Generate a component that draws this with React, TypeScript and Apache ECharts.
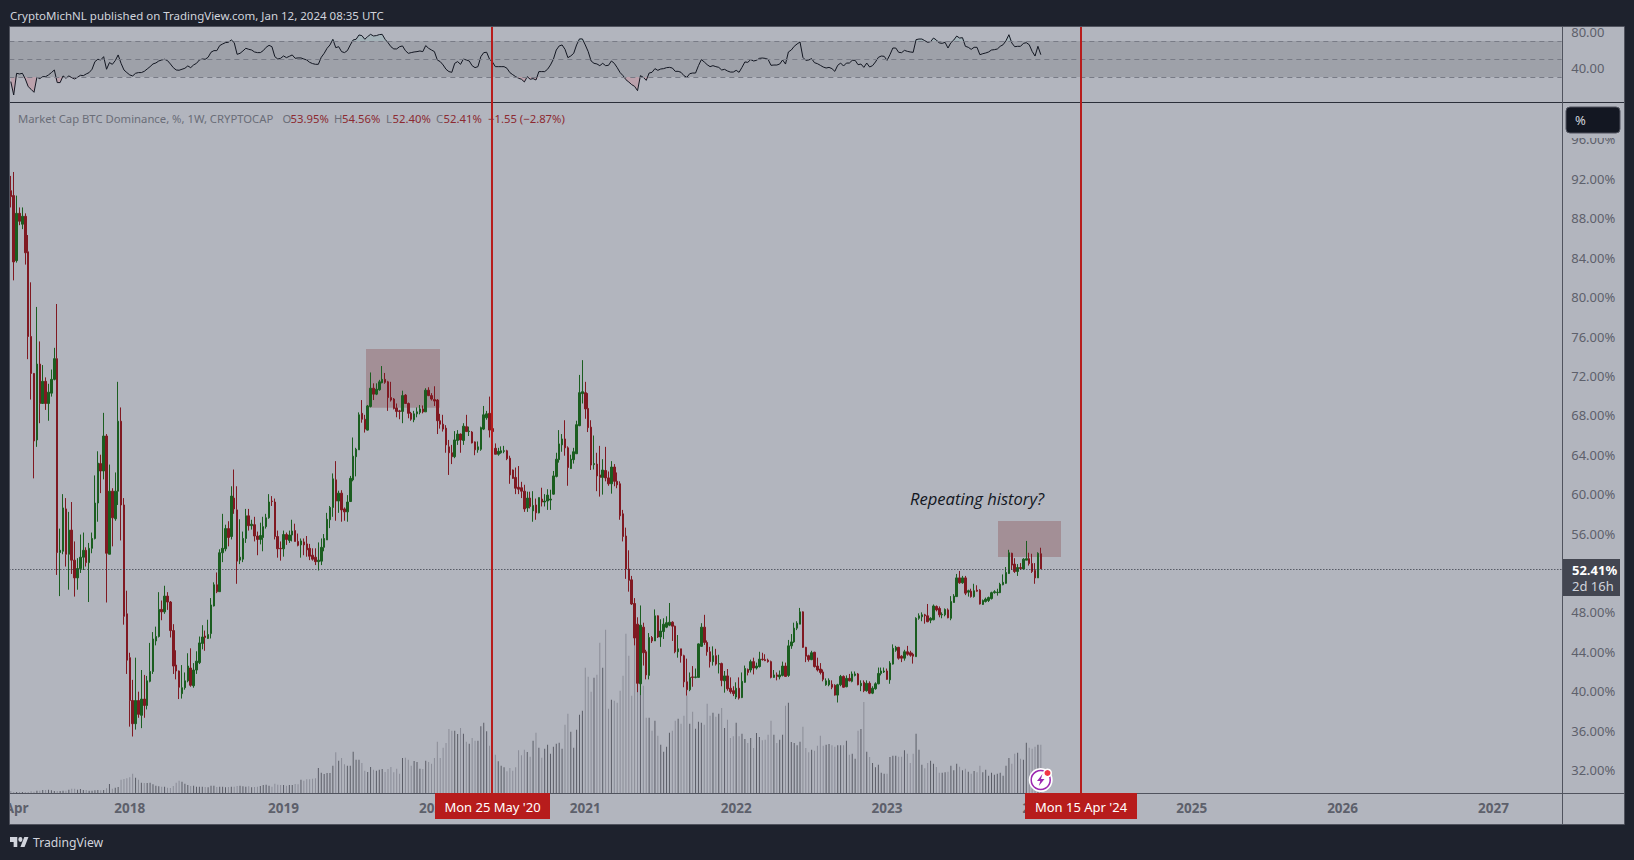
import React, { useEffect, useRef } from "react";
import * as echarts from "echarts";

// [open, close, high, low] per week
const candles2017 = [
[90.8,90.2,92.3,89.1],[90.3,83.57,92.7,81.7],[83.7,88.5,90.3,83.5],[88.5,87.7,89.1,87.3],[87.4,88.2,89.1,86.9],[88.2,84.5,88.5,83.3],[84.6,76,86.3,73.7],[76,72.25,81.5,69.6],[72.25,65.4,72.3,61.6],[65.5,73.2,79,64.8],
[73.2,69.2,75.5,67.2],[69.2,71.45,73.1,69.2],[71.45,69.2,71.85,68.55],[69.2,70.35,71.2,67.45],[70.25,71.65,72.65,69.9],[71.65,73.75,74.85,71.55],[73.75,54.07,79.3,51.8],[54.07,54.3,56.5,49.65],[54.2,58.6,60,53.9],[58.5,53.9,59.6,52.65],
[53.9,56.35,58.2,50.3],[56.35,53.3,59.2,51.9],[53.3,51.5,55.2,49.6],[51.5,52.45,53.5,50.3],[52.45,53.6,55.9,52],[53.6,54.3,56.1,52.3],[54.3,53.05,54.6,52.65],[53.05,54.5,55.05,49.05],[54.5,55.5,56.1,54],[55.5,59.1,61.9,55.4],
[59.1,63.15,64.35,57.2],[63.1,62.35,64,60.1],[62.35,65.9,68.25,61.5],[65.9,54,66.1,49],[53.9,60.3,63,53.9],[60.3,57.6,60.6,54.7],[57.5,60.3,62.2,57.3],[60.3,67.4,71.4,58.9],[67.4,58.9,68.8,55.3],[58.9,47.6,59.6,46.75],
[47.85,43.15,50.2,41.75],
];
const candles2018 = [
[43.4,39.05,43.9,36.4],[39.05,36.7,41.15,35.4],[36.7,39.05,43.4,36.1],[39.05,37.65,39.95,37.3],[37.55,39.2,42.15,36.25],[39.2,38.55,41.65,37.3],[38.55,41.05,41.55,38.15],[41,42,44.9,40.9],[42,45.3,46,41.75],
[45.1,45.55,46.55,44.65],[45.55,48.3,50.05,45.45],[48.3,48.05,49.2,47.2],[48.05,49.65,50.7,47.85],[49.65,49.05,50.05,48.25],[49.05,46.15,49.15,45.45],[46.15,42.55,46.8,41.75],[42.65,42.05,44.15,41.2],[42.05,40.4,42.1,39.2],[39.75,40.35,42.65,39.25],
[40.35,41.05,41.9,40.15],[41.05,42.55,43.85,40.9],[42.35,40.6,44.35,40.45],[40.55,42.15,42.85,40.35],[42.15,43.05,44.05,41.75],[42.9,44.9,45.55,42.75],[44.85,45.5,46.7,44.25],[45.6,45.45,46.15,44.1],[45.35,45.75,47.25,45.3],[45.85,48.75,49.45,45.35],
[48.65,50.8,51.05,48.6],[50.8,50.1,52.05,49.95],[50.1,54.05,54.4,50.1],[54.05,54.5,58,53.1],[54.45,56.5,56.9,54.2],[56.5,55.6,57.25,54.7],[55.7,59.8,60.8,55.4],[59.6,58.5,62.5,58],[58.4,53.2,60.8,50.9],[53.3,53.6,57.45,52.9],
[53.4,55.5,56.2,53.1],[55.5,57.8,58.5,55.05],[57.8,56.8,58.5,56.3],[56.8,56.95,57.4,56.4],[56.9,55.75,57.7,55.2],[55.75,55.4,56.2,53.8],[55.4,55.8,57.1,54.9],[55.6,56.7,57.7,54.2],[56.7,57.6,58,56.5],[57.6,59.2,60,57.5],
[59.3,59.25,59.8,58.8],[59.2,55.7,59.55,55.4],[55.7,54.45,56.3,53.55],[54.5,54.45,55.2,53.25],
];
const candles2019 = [
[54.45,55.9,56.3,53.65],[55.9,55.4,56.1,54.85],[55.3,55.85,56.3,55.05],[55.85,56.25,57.4,55.2],[56.3,55.2,57,55.2],[55.2,54.8,56,54.7],
[54.85,55.25,55.5,53.55],[55.15,54.85,55.5,53.8],[54.95,54.35,55.75,53.65],[54.5,53.7,54.95,53.3],[53.8,53.4,54.5,53.25],[53.6,53.15,54.5,52.8],[53.15,53.3,55.1,52.25],[53.2,54.6,55.5,52.8],[54.6,55.5,55.95,54.2],[55.35,57.45,58.1,55.35],
[57.4,58.65,58.8,56.55],[58.65,61.55,62.1,57.7],[61.45,59.3,63.35,57.3],[59.3,60.1,60.35,58.1],[60.1,58.4,60.4,57.2],[58.5,58.2,58.65,57.3],[58.2,59.2,59.9,57.2],[59.25,61.6,61.85,59.2],[61.45,63.85,65.75,61.3],[63.8,64.55,64.7,61.8],
[64.5,68.05,68.3,64.5],[68.2,67.6,69.55,67.25],[67.6,66.6,68.05,66.25],[66.5,68.95,69.05,66.45],[68.9,70.75,72.35,68.8],[70.75,70.15,71.25,69.55],[70.15,70.65,71.25,70.05],[70.6,71.4,71.6,70.5],[71.3,71.65,73,71.25],[71.65,71.35,72.3,71.2],
[71.4,69.8,71.5,68.45],[69.8,69.55,71.4,69.4],[69.65,68.7,69.75,68.6],[68.75,68.4,69.2,67.8],[68.45,68.4,68.55,67.6],[68.4,70,70.5,67.2],[70.05,69.2,70.15,69.15],[69.2,68.2,69.3,67.7],[68.2,67.6,68.35,67.45],[67.55,68.15,68.45,67.3],
[68.15,68.35,68.8,67.8],[68.3,68.65,69.05,68.1],[68.65,68.35,69,68.2],[68.35,70.55,70.75,68.35],[70.55,70,70.85,69.95],[70,69.65,70.25,69.5],
];
const candles2020 = [
[69.6,69.45,70.95,68.95],[69.55,67.45,69.65,66.1],[67.45,67.1,68.15,66.65],[67.1,66.6,68.05,66.35],
[66.7,65,67,64.2],[64.8,64.2,65.5,61.95],[64.2,63.8,65,63.05],[63.8,65.5,66.4,63.65],[65.45,66.1,66.5,65],[66.1,65.5,66.15,64.2],[65.45,66.9,67.2,65],[66.85,66.35,68.05,66.35],[66.35,66.4,66.85,65.9],[66.3,65.2,66.4,65.15],
[65.3,64.5,65.35,63.95],[64.5,64.8,65.35,64.2],[64.55,66.75,66.85,64.4],[66.6,68.05,68.95,66.5],[67.75,68.15,68.45,67.55],[68.2,66.5,69.9,65.75],[66.65,66.35,66.7,65.75],[64.65,64.05,65.15,64.05],[64.05,64.35,64.7,63.9],[64.2,64.4,64.85,64.1],
[64.35,64.4,64.9,64.15],[64.4,63.6,64.5,63.45],[63.65,61.95,63.9,61.05],[62.45,61.6,62.5,61.55],[61.7,60.6,62.7,60],[60.7,60.5,62.85,60],[60.65,60.3,61.25,59.6],[60.3,58.5,60.95,58.2],[58.6,59.6,60.25,58.2],[59.6,58.75,60.25,58.55],
[58.3,58.85,60.3,57.2],[58.9,58.1,59.55,57.4],[58.1,59.65,59.65,58.05],[59.5,59.2,60.65,58.75],[59.2,59.3,60,58.75],[59.3,59.9,60.5,58.4],[59.4,59.5,60.45,58.4],[60,61.85,62.35,59.95],[61.8,63.55,64.2,61.7],[63.5,65.1,66.5,63.2],
[65,65.6,66.1,64.3],[65.6,64.7,67.5,63.9],[64.7,62.7,64.85,60.85],[62.6,63.55,64,62.55],[63.5,64.3,64.7,63.1],[64.1,67.05,67.45,64.1],[66.95,70.3,72.1,66.9],[70.2,70.4,73.6,69.2],
];
const candles2021 = [
[70.3,68.65,71.4,67.65],[68.7,66.75,70.25,66.3],[66.8,62.95,67.5,62.45],[63,63.1,65.95,62.5],[63.05,61.85,64.2,60.3],[61.95,61.7,64.9,59.75],[61.7,62.45,63.55,59.95],[62.4,61.65,64.8,61.3],[61.65,61.05,62.3,60.85],[61.05,62.75,63.35,60.05],
[62.75,61.3,63.05,60.8],[61.3,60.95,62.2,60.6],[61.05,57.8,61.3,57.4],[58,55.7,58.4,55.2],[55.75,52.4,56.6,51.4],[52.4,51.25,54.3,50.1],[51.3,48.85,51.7,48.75],[48.9,45.4,49.45,44.65],[46.8,40.8,47.5,39.9],[40.75,46.7,48.7,39.6],
[46.5,43.9,46.95,42.6],[44,41.65,44.2,41.2],[41.6,45.45,45.9,41.2],[45.45,45.1,45.6,44.9],[45.1,47.65,48.3,45.1],[47.65,45.5,47.7,45.4],[45.5,46.1,47.3,44.5],[46.05,46.8,47.4,45.3],[46.5,46.95,47.6,46.4],[46.7,47,48.95,46.6],
[47,46.6,47.1,45.1],[46.6,44,46.65,43.85],[44,44.3,45.7,43.4],[44.3,43.6,44.3,42.9],[43.6,40.95,43.7,40.4],[40.95,40.15,43.3,39.55],[40.15,41.4,41.9,40],[41.45,41.4,42.55,40.45],[41.4,41.45,42.3,41.3],[41.4,44.8,44.85,41.4],
[44.55,46.5,46.9,44.5],[46.5,44.95,47.75,44.7],[44.95,44,45.15,43.6],[44,43,44.5,42.4],[43,43.6,44.55,42.6],[43.6,42.75,44.3,42.6],[42.75,42.8,43.7,41.8],[42.8,41.1,42.9,40.5],[41.05,41.55,42.05,39.85],[41.55,40.25,42.25,40.05],
[40.3,39.95,41.4,39.75],[40.05,39.75,40.5,39.5],
];
const candles2022 = [
[39.4,40.3,40.9,39.2],[40.3,39.3,41.4,39.15],[39.35,41,41.9,39.3],[40.9,42.3,42.6,40.85],[42.2,41.9,42.3,41.6],[42.15,43,43.2,41.9],[43,42.35,43.4,41.7],[42.35,42.55,42.9,42.2],[42.5,43.25,44,42.4],[43.25,43.2,43.9,43.1],
[43.2,43.1,43.75,43.05],[43.15,43,43.3,42.9],[43,41.4,43.1,41.3],[41.4,41.65,42.15,41.35],[41.65,41.5,41.9,41.1],[41.45,41.65,42.1,41.2],[41.6,42.55,43,41.5],[42.55,41.5,42.9,41.45],[41.6,44.6,45.2,41.45],[44.6,45,45.8,44.3],
[45,46.4,46.95,44.9],[46.4,46.9,47.1,46.2],[46.8,48.05,48.45,46.8],[48.05,44.45,48.1,44.4],[44.45,43.55,44.5,42.95],[43.6,43.2,43.7,43],[43.2,43.9,44.1,43.15],[43.95,42.5,44,42.4],[42.55,42.15,43.4,42],[42.25,41.9,42.85,41.7],
[41.95,41.2,42.2,41],[40.65,41.05,41.3,40.55],[40.65,41.1,41.3,40.5],[40.7,40.4,41.1,40.2],[40.6,39.6,40.7,39.55],[39.6,40.65,40.75,38.85],[40.65,41.5,41.65,40.5],[41.5,40.4,41.6,40.35],[40.45,41.3,41.6,40.4],[41.3,41.05,41.75,41],
[41,41.75,42,40.9],[41.6,41.75,42,41.5],[41.75,40.65,41.85,40.6],[40.55,40.8,41.1,40],[40.9,40.05,41.1,39.9],[40.05,40.8,41.1,39.95],[40.8,39.8,41,39.7],[39.8,40.3,40.5,39.7],[40.25,40.75,40.9,40.15],[40.75,41.8,42.4,40.7],
[41.8,42.05,42.4,41.6],[41.95,42.05,42.4,41.85],
];
const candles2023 = [
[42.05,41.2,42.3,41.15],[41.15,42.85,43.05,40.75],[42.75,44.35,44.75,42.7],[44.15,44.45,44.6,44],[44.45,43.35,44.5,43.2],[43.55,43.35,43.65,42.95],[43.35,44,44.2,43.1],[44,43.75,44.6,43.6],[43.9,43.65,44.1,43.5],[43.75,43.55,43.9,42.8],
[43.5,47.4,47.5,43.5],[47.4,47.65,47.9,47.25],[47.55,47.75,48,47.1],[47.75,47.65,47.85,46.85],[47.65,47.05,48.85,47],[47.2,47.4,47.5,46.9],[47.25,48.65,48.8,47.2],[48.6,48.25,48.7,48.1],[48.4,47.75,48.6,47.5],[47.75,47.8,48,47.4],
[47.75,48.3,48.4,47.6],[48.25,47.45,48.4,47.4],[47.4,49.1,49.65,47.2],[49,49.65,49.85,49],[49.6,51.5,51.9,49.6],[51.5,51,52.2,50.9],[51,51.5,51.7,50.9],[51.5,49.95,51.7,49.75],[50.05,50.2,50.3,49.6],[50.15,49.6,50.4,49.5],
[49.6,50.2,50.9,49.5],[50.25,50.15,50.75,50.1],[50.25,48.85,50.35,48.8],[48.8,49.2,49.3,48.75],[49.1,49.35,49.5,49],[49.2,49.5,49.6,49.05],[49.4,50,50.1,49.3],[50,50.1,50.25,49.9],[50,50.05,50.4,49.7],[50,50.85,51,49.95],
[50.8,51.05,51.85,50.75],[50.95,52.05,52.6,50.9],[51.95,54.05,54.35,51.9],[54,52.8,54.05,52.3],[52.9,52.15,53.5,52],[52.15,52.55,52.9,51.7],[52.55,52.45,53,52.3],[52.4,53.4,53.5,52.35],[53.3,53.45,55.25,53.3],[53.45,52.95,54.05,52.75],
[52.95,52.15,53.95,52],[52.25,51.5,53,50.9],
];
const candles2024 = [[51.5,54,54.1,51.5],[53.95,52.41,54.56,52.4]];

const volume2017 = [2,1,1,1,1,1,1,1.7,1.3,2.3,2.3,3,3,3.3,2.7,2,2,2,2.3,2.3,3.3,4.3,4.3,3.3,4,3,3,2.3,2.3,2.7,3,2.7,3,4.7,9,4.3,5.3,6,13.3,14,14.7];
const volume2018 = [15.7,19.3,15.3,13.3,10.3,10,10,10.3,8.7,7.3,6.7,6.3,6.3,5.3,5,7,10.3,12.3,11.3,9.3,8,7,7.3,6.3,6.3,6.3,6,5.7,7.3,7.3,6,6.3,6.3,5.7,6,6.3,6.3,7,7.3,6.7,6.3,6.7,5.7,6,6.3,7,8,8.3,7.3,6.3,9.3,8.3,8];
const volume2019 = [8,7.3,8,8,9,8.7,13.3,12.3,13.7,13.7,14.3,14.7,25,20.3,19,20,20,27.3,40.7,32.3,35,28.7,27.3,27.3,41.3,33.3,33.3,30,22.3,21,26,23.3,22.3,23.3,24,21,24,26,20.7,24.3,19.3,35,35.3,33.3,27.3,32,31,24.3,24,32.3,31,29.3];
const volume2020 = [35,51.3,35,45.3,50,64,62.3,62.3,59,65,59.3,51.3,49.3,55,52.3,52.3,66.7,70.3,61.7,47.3,46,38.3,31.7,27.3,25.7,21.7,25,22.3,25.7,42.7,37.7,43.3,41,36.3,52.3,60.3,45.3,35.3,44.3,48.3,39.3,46.3,49.3,50.3,44.3,68.3,79.3,61.3,45.3,63.3,78.3,82.3];
const volume2021 = [125.3,116.3,101.3,115.3,118.3,150.3,125.3,163.3,84.3,93.3,92.3,90.3,102.3,117.3,159.3,137.3,97.3,172.3,156.7,168,107.3,75.3,75.3,62.3,72.3,57.3,48.3,41.3,46.3,60.3,62.3,72.3,74.3,69.3,77.3,97.3,69.3,81.3,64.3,71.3,70.3,68.3,89.3,77.3,80.3,76.3,79.3,85,65,73.3,55,56.7];
const volume2022 = [70.3,56.7,59.3,54,50,55,45,60,56,52.7,53.3,58.3,72.3,58.3,50,53.3,58.3,87.3,90.3,51,50,47.7,51.3,66.3,45,40.7,43.3,42.3,47.3,57.3,47.3,48.3,49,47.7,46.3,47.7,47.7,47.7,52.3,38.3,39.3,34.3,62.3,64,91,41.3,36,30,25.7,28.3,20.3,19.3];
const volume2023 = [19.3,36,37.3,37.3,36.3,36.3,42.7,39.3,30,39.3,59.3,43.3,28.3,24.7,30,32.3,29.3,26,20.3,20.3,20.7,21.3,27.3,22.7,29.3,26.3,22.7,24.3,21.3,19.3,22,20.7,27.3,20.7,23.3,17.3,20.3,18.3,19.3,20.3,17.3,27.3,35,29.3,39.3,40.3,34.3,33.3,50.3,45.3,44.3,46.3];
const volume2024 = [48.3,48.3];

const rsi2017 = [24.9,10,34.1,33.4,34.1,27.8,19.3,16.3,13,29.7,28.2,30.4,30.4,32.3,34.9,37.8,23.8,23.8,31.2,28.6,31.2,29.3,27.8,29.7,31.9,31.5,33.4,34.9,38.6,47.1,49.7,48.9,52.6,38.6,46,44.1,48.2,54.5,45.2,37.8,34.9];
const rsi2018 = [32.3,31.2,34.1,34.9,34.9,36.3,38.9,41.5,44.5,45.6,47.8,48.9,49.7,48.2,44.5,40.4,37.8,37.5,38.6,39.7,42.3,40.4,43.4,45.2,48.9,50,49.7,51.9,57.5,59.3,59.3,64.9,66.7,68.2,68.6,71.2,68.2,55.2,56.3,58.9,61.9,60.8,60,57.8,57.1,57.1,59.3,63,65.2,63.7,52.6,50,50.8];
const rsi2019 = [53.4,51.5,53,54.5,50.8,51.2,51.2,50,48.9,46.3,44.9,44.1,44.1,51.9,56.3,61.9,65.6,71.9,62.6,63.7,58.2,57.1,59.3,65.6,71.2,71.9,76.7,76,71.9,74.9,77.4,75.6,76,77.1,77.4,71.9,68.2,63.7,61.2,61.2,63.7,64.5,59.3,56.3,57.1,57.8,58.2,58.9,58.2,64.9,61.9,60];
const rsi2020 = [58.2,48.9,47.1,43.4,38.6,36,35.2,45.2,47.1,44.1,50,48.9,47.8,42.6,40.4,41.5,52.6,57.1,57.5,49.7,46.7,41.5,41.5,41.5,41.5,39.7,34.9,32.6,30.4,28.6,27.5,24.5,30.4,27.5,28.2,26.7,36,36,36,38.6,43.4,49.7,60,64.5,65.6,60.8,51.5,53.4,56.3,65.6,72.3,72.3];
const rsi2021 = [65.6,58.2,47.8,45.2,44.5,42.6,45.2,42.6,43,47.8,45.2,40.4,34.9,31.5,27,24.4,21.5,19.6,14.8,31.5,29.6,26.3,34.4,35.2,39.3,37.4,38.9,39.3,40.4,40.7,40,36.3,36.3,35.2,31.5,29.6,33.7,34.4,34.4,42.6,49.3,46.7,43.7,41.5,42.6,41.5,40.7,37.8,38.5,36.7,35.5,35.5];
const rsi2022 = [37.4,35.2,40.7,46.7,46.3,49.3,47.8,48.5,50.7,51.1,50.7,49.6,43,43.3,43.3,44.4,48.9,44.4,57.8,60,64.1,66.7,68.9,51.8,48.5,48.9,50.4,45.9,44.8,43,41.1,40,40.7,39.3,36.3,43,45.5,42.2,45.5,45.5,48.5,48.5,43.7,44.4,40.7,45.5,41.1,42.6,46.7,51.8,53.3,53];
const rsi2023 = [48.5,54.8,62.2,62.2,57.4,57,59.6,58.5,57.8,57.4,71.5,72.2,72.2,70.4,68.5,69.3,73.3,71.1,67.8,67.4,68.5,62.2,68.1,71.1,75.5,73.3,73.7,64.1,63,60.7,63,63,54.8,55.9,56.7,57.8,60,60.4,61.1,64.1,65.9,70.4,77,67.8,63.7,64.1,64.1,67.4,68.1,65.9,58.5,53.3];
const rsi2024 = [64.1,54.8];

const tickLabels: Record<number, string> = { 2: "Apr", 41: "2018", 94: "2019", 146: "2020", 198: "2021", 250: "2022", 302: "2023", 354: "2024", 407: "2025", 459: "2026", 511: "2027" };

const WEEKS = 535;
const FONT = '"Noto Sans"';
const BG = "#1e222d";
const PANEL = "#b2b5be";
const LINE = "#50535e";
const RED = "#b71c1c";
const UP = "#1b5e20";
const DOWN = "#801922";

registerLogo();
function registerLogo() {
  echarts.graphic.registerShape(
    "tvlogo",
    echarts.graphic.extendPath("M14 6H0v8h7v8h7V6Zm14 16h-8l7.5-16h8L28 22Zm-8-8a4 4 0 1 0 0-8 4 4 0 0 0 0 8Z", {})
  );
}

const txt = (text: string, x: number, y: number, fill: string, font: string, z = 40, align = "left") => ({
  type: "text", x, y, z, silent: true,
  style: { text, fill, font, textAlign: align, textVerticalAlign: "middle" },
});
const rect = (x: number, y: number, width: number, height: number, fill: string, z: number) => ({
  type: "rect", z, silent: true, shape: { x, y, width, height },
  style: { fill },
});
const ln = (x1: number, y1: number, x2: number, y2: number, stroke: string, lineWidth: number, z: number) => ({
  type: "line", z, silent: true, shape: { x1, y1, x2, y2 }, style: { stroke, lineWidth },
});

export default function App() {
  const ref = useRef<HTMLDivElement>(null);
  useEffect(() => {
    const chart = echarts.init(ref.current!, null, { renderer: "svg" });
    const rows = [...candles2017, ...candles2018, ...candles2019, ...candles2020, ...candles2021, ...candles2022, ...candles2023, ...candles2024];
    const candles = rows.map(([o, c, h, l]) => [o, c, l, h]);
    const volumes = [...volume2017, ...volume2018, ...volume2019, ...volume2020, ...volume2021, ...volume2022, ...volume2023, ...volume2024];
    const rsi = [...rsi2017, ...rsi2018, ...rsi2019, ...rsi2020, ...rsi2021, ...rsi2022, ...rsi2023, ...rsi2024];
    const categories: string[] = [];
    for (let i = 0; i < WEEKS; i++) categories.push(new Date(Date.UTC(2017, 2, 20 + 7 * i)).toISOString().slice(0, 10));

    const gridLeft = 9.35;
    const gridWidth = 1552.3;
    const axisFont = { color: "#5d606b", fontFamily: FONT, fontSize: 13 };
    const hiddenX = (i: number) => ({ type: "category", gridIndex: i, data: categories, show: false });

    const sans = `13px ${FONT}`;
    const legendFont = `11.3px ${FONT}`;
    const redT = "#8c2a31";
    const grayT = "#6a6d78";

    chart.setOption({
      animation: false,
      backgroundColor: BG,
      grid: [
        { left: gridLeft, width: gridWidth, top: 27, height: 77 },
        { left: gridLeft, width: gridWidth, top: 100.05, height: 669.95 },
        { left: gridLeft, width: gridWidth, top: 600, height: 193 },
      ],
      xAxis: [
        hiddenX(0),
        hiddenX(1),
        {
          type: "category", gridIndex: 2, data: categories,
          axisLine: { show: false }, axisTick: { show: false },
          axisLabel: {
            ...axisFont, fontSize: 13.5, fontWeight: "bold", margin: 8,
            interval: (i: number) => tickLabels[i] !== undefined,
            formatter: (_: string, i: number) => tickLabels[i] ?? "",
          },
        },
      ],
      yAxis: [
        {
          type: "value", gridIndex: 0, position: "right", min: 0, max: 85.56, interval: 40,
          axisLine: { show: false }, axisTick: { show: false }, splitLine: { show: false },
          axisLabel: { ...axisFont, margin: 9.6, showMinLabel: false, showMaxLabel: false, formatter: (v: number) => v.toFixed(2) },
        },
        {
          type: "value", gridIndex: 1, position: "right", min: 32, max: 100, interval: 4,
          axisLine: { show: false }, axisTick: { show: false }, splitLine: { show: false },
          axisLabel: { ...axisFont, margin: 9.6, showMaxLabel: false, formatter: (v: number) => (v === 52 ? "" : v.toFixed(2) + "%") },
        },
        { type: "value", gridIndex: 2, min: 0, max: 193, show: false, splitLine: { show: false } },
      ],
      series: [
        {
          type: "bar", name: "Volume", xAxisIndex: 2, yAxisIndex: 2, z: 1, barWidth: 1, silent: true,
          data: volumes.map((v, i) => ({
            value: v,
            itemStyle: { color: candles[i][1] >= candles[i][0] ? "#5a5c66" : "#8a8c97" },
          })),
        },
        {
          type: "line", name: "RSI", xAxisIndex: 0, yAxisIndex: 0, z: 4, data: rsi, showSymbol: false, silent: true,
          lineStyle: { color: "#131722", width: 1 },
          markArea: { silent: true, itemStyle: { color: "rgba(0,0,0,0.11)" }, data: [[{ yAxis: 30 }, { yAxis: 70 }]] },
          markLine: {
            silent: true, symbol: "none", label: { show: false },
            lineStyle: { color: "#787b86", type: [5, 4], width: 1 },
            data: [{ yAxis: 70 }, { yAxis: 50 }, { yAxis: 30 }],
          },
        },
        {
          type: "line", name: "RSI low", xAxisIndex: 0, yAxisIndex: 0, z: 3, silent: true, showSymbol: false,
          data: rsi.map((v) => Math.min(v, 30)), lineStyle: { opacity: 0 },
          areaStyle: { origin: 30, color: "rgba(242,54,69,0.22)" },
        },
        {
          type: "line", name: "RSI high", xAxisIndex: 0, yAxisIndex: 0, z: 3, silent: true, showSymbol: false,
          data: rsi.map((v) => Math.max(v, 70)), lineStyle: { opacity: 0 },
          areaStyle: { origin: 70, color: "rgba(8,153,129,0.12)" },
        },
        {
          type: "candlestick", name: "BTC.D", xAxisIndex: 1, yAxisIndex: 1, z: 3, silent: true,
          barWidth: 2, data: candles,
          itemStyle: { color: UP, color0: DOWN, borderColor: UP, borderColor0: DOWN, borderWidth: 1 },
          markLine: {
            silent: true, symbol: "none", label: { show: false },
            lineStyle: { color: "#2a2e39", type: [1, 2], width: 1 },
            data: [{ yAxis: 52.41 }],
          },
        },
      ],
      graphic: {
        elements: [
          rect(10, 27, 1614, 797, PANEL, -10),
          rect(366, 349, 74, 58.7, "rgba(120,30,30,0.25)", 1),
          rect(998, 521, 63, 36, "rgba(120,30,30,0.25)", 1),
          ln(10, 102.5, 1624, 102.5, "#2a2e39", 1, 10),
          ln(10, 793.5, 1624, 793.5, LINE, 1, 10),
          ln(1562.5, 27, 1562.5, 824, LINE, 1, 10),
          { type: "rect", z: 10, silent: true, shape: { x: 9.5, y: 26.5, width: 1615, height: 798 }, style: { fill: "none", stroke: LINE, lineWidth: 1 } },
          rect(0, 27, 9, 800, BG, 30),
          ln(492, 27, 492, 793, RED, 2, 25),
          ln(1081, 27, 1081, 793, RED, 2, 25),
          rect(435, 793, 115, 26, RED, 30),
          rect(1025, 793, 112, 26, RED, 30),
          txt("Mon 25 May '20", 492.5, 806.5, "#ffffff", sans, 40, "center"),
          txt("Mon 15 Apr '24", 1081, 806.5, "#ffffff", sans, 40, "center"),
          txt("CryptoMichNL published on TradingView.com, Jan 12, 2024 08:35 UTC", 10, 15, "#d1d4dc", `11.5px ${FONT}`),
          txt("Market Cap BTC Dominance, %, 1W, CRYPTOCAP", 18, 118, grayT, legendFont),
          txt("O", 282.5, 118, grayT, legendFont),
          txt("53.95%", 290.5, 118, redT, legendFont),
          txt("H", 334, 118, grayT, legendFont),
          txt("54.56%", 342, 118, redT, legendFont),
          txt("L", 386, 118, grayT, legendFont),
          txt("52.40%", 392.5, 118, redT, legendFont),
          txt("C", 436, 118, grayT, legendFont),
          txt("52.41%", 443.5, 118, redT, legendFont),
          txt("\u22121.55 (\u22122.87%)", 488, 118, redT, legendFont),
          txt("Repeating history?", 910, 498, "#131722", `italic 16.6px "Open Sans"`),
          rect(1563, 104, 60, 34, PANEL, 29),
          { type: "rect", z: 30, silent: true, shape: { x: 1566, y: 107, width: 54, height: 26, r: 4 }, style: { fill: "#131722", stroke: LINE, lineWidth: 1 } },
          txt("%", 1575, 120, "#d1d4dc", sans),
          rect(1563, 559, 57, 37, "#434651", 30),
          txt("52.41%", 1572, 570, "#ffffff", `bold 13px ${FONT}`),
          txt("2d 16h", 1572, 586, "#d1d4dc", sans),
          { type: "tvlogo", x: 10, y: 833.3, scaleX: 0.52, scaleY: 0.62, z: 40, silent: true, style: { fill: "#d1d4dc" } },
          txt("TradingView", 33, 842.5, "#d1d4dc", `12.2px ${FONT}`),
          { type: "circle", z: 30, silent: true, shape: { cx: 1040.7, cy: 780, r: 12 }, style: { fill: "#ffffff" } },
          { type: "circle", z: 31, silent: true, shape: { cx: 1040.7, cy: 780, r: 9.5 }, style: { fill: "#ffffff", stroke: "#9c27b0", lineWidth: 1.5 } },
          { type: "polygon", z: 32, silent: true, shape: { points: [[1042.5, 774], [1037, 781], [1040.3, 781], [1038.8, 786], [1044.5, 779], [1041, 779]] }, style: { fill: "#9c27b0" } },
          { type: "circle", z: 33, silent: true, shape: { cx: 1047.5, cy: 773, r: 4.5 }, style: { fill: "#ffffff" } },
          { type: "circle", z: 34, silent: true, shape: { cx: 1047.5, cy: 773, r: 3 }, style: { fill: "#f23645" } },
        ],
      },
    });
    return () => chart.dispose();
  }, []);
  return <div ref={ref} style={{ position: "fixed", left: 0, top: 0, width: 1634, height: 860 }} />;
}
